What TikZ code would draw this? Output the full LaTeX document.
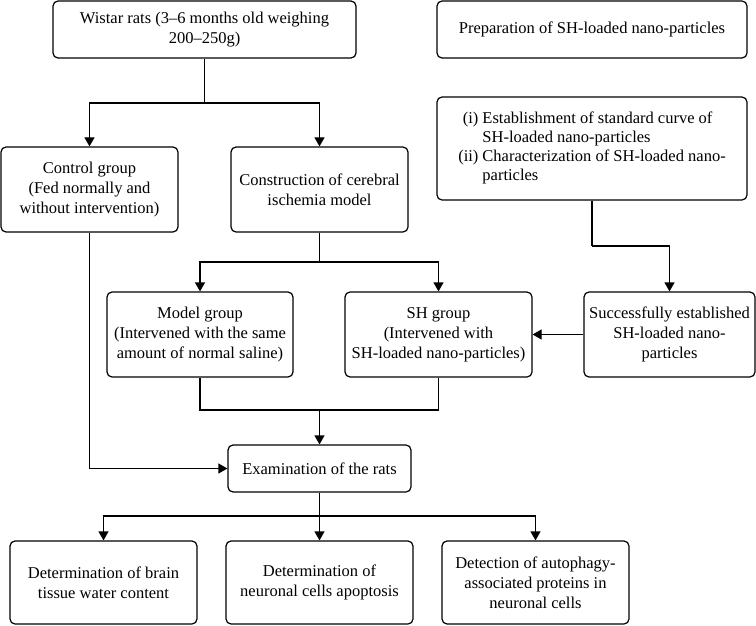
\documentclass[tikz,border=0pt]{standalone}
\usepackage{fontspec}
\setmainfont{Liberation Serif}
\usetikzlibrary{arrows.meta}
\begin{document}
\begin{tikzpicture}[x=1pt,y=-1pt,
  box/.style={draw, line width=1.2pt, rounded corners=5pt, inner sep=0pt, align=center,
    font=\fontsize{16.5}{20}\selectfont},
  arr/.style={-{Triangle[width=10pt,length=9pt]}},
  every path/.style={line width=1.2pt}]
\useasboundingbox (0,0) rectangle (756,626);
\node[box, minimum width=303pt, minimum height=57pt] (wistar) at (204.5,29.5)
  {Wistar rats (3--6 months old weighing\\200--250g)};
\node[box, minimum width=310pt, minimum height=57pt] (prep) at (592,29.5)
  {Preparation of SH-loaded nano-particles};
\node[box, minimum width=310pt, minimum height=103pt] (steps) at (592,148.5)
  {\fontsize{16.5}{19}\selectfont\begin{tabular}{@{}r@{\hspace{4pt}}l@{}}
   (i) & Establishment of standard curve of\\
       & SH-loaded nano-particles\\
   (ii) & Characterization of SH-loaded nano-\\
       & particles
   \end{tabular}};
\node[box, minimum width=177pt, minimum height=85pt] (control) at (89.5,189.5)
  {Control group\\(Fed normally and\\without intervention)};
\node[box, minimum width=177pt, minimum height=85pt] (constr) at (319.5,189.5)
  {Construction of cerebral\\ischemia model};
\node[box, minimum width=186pt, minimum height=85pt] (model) at (200,334.5)
  {Model group\\(Intervened with the same\\amount of normal saline)};
\node[box, minimum width=187pt, minimum height=85pt] (sh) at (438.5,334.5)
  {SH group\\(Intervened with\\SH-loaded nano-particles)};
\node[box, minimum width=171pt, minimum height=85pt] (succ) at (669.5,334.5)
  {Successfully established\\SH-loaded nano-\\particles};
\node[box, minimum width=183pt, minimum height=47pt] (exam) at (319.5,468.5)
  {Examination of the rats};
\node[box, minimum width=187pt, minimum height=83pt] (d1) at (103.5,582.5)
  {Determination of brain\\tissue water content};
\node[box, minimum width=187pt, minimum height=83pt] (d2) at (319.5,582.5)
  {Determination of\\neuronal cells apoptosis};
\node[box, minimum width=187pt, minimum height=83pt] (d3) at (535.5,582.5)
  {Detection of autophagy-\\associated proteins in\\neuronal cells};
% connectors
\coordinate (j1) at (204.5,103);
\draw (wistar.south) -- (j1);
\draw[arr] (j1) -| (control.north);
\draw[arr] (j1) -| (constr.north);
\coordinate (j2) at (319.5,262);
\draw (constr.south) -- (j2);
\draw[arr] (j2) -| (model.north);
\draw[arr] (j2) -| (sh.north);
\coordinate (j5) at (592,246);
\draw (steps.south) -- (j5);
\draw[arr] (j5) -| (succ.north);
\draw[arr] (succ.west) -- (sh.east);
\coordinate (j3) at (319.5,410);
\draw (model.south) |- (j3);
\draw (sh.south) |- (j3);
\draw[arr] (j3) -- (exam.north);
\draw[arr] (control.south) |- (exam.west);
\coordinate (j4) at (319.5,516);
\draw (exam.south) -- (j4);
\draw[arr] (j4) -| (d1.north);
\draw[arr] (j4) -- (d2.north);
\draw[arr] (j4) -| (d3.north);
\end{tikzpicture}
\end{document}
